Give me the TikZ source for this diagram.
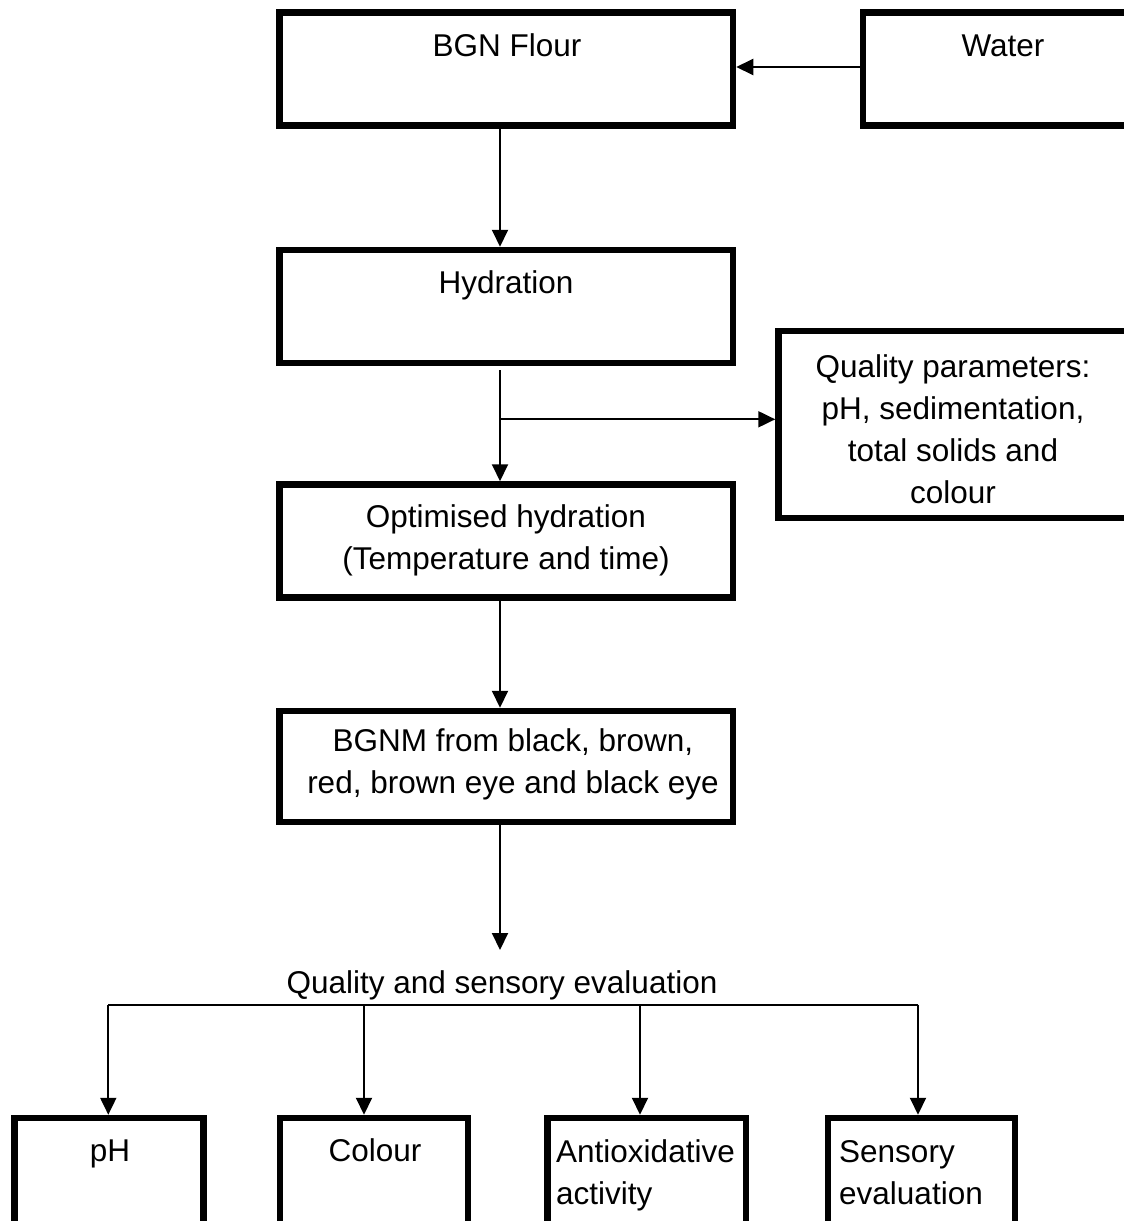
\documentclass[tikz,border=0pt]{standalone}
\usepackage{fontspec}
\setmainfont{Liberation Sans}
\usetikzlibrary{arrows.meta}
\begin{document}
\begin{tikzpicture}[x=1pt,y=-1pt,
  box/.style={draw, line width=6.5pt, inner sep=0pt, rectangle},
  txt/.style={inner sep=0pt, align=center, anchor=base, font=\fontsize{31.5}{42}\selectfont},
  ltxt/.style={inner sep=0pt, align=left, anchor=base west, font=\fontsize{31.5}{42}\selectfont},
  conn/.style={line width=2pt},
  arr/.style={conn, -{Triangle[length=17pt,width=16pt]}}]
\useasboundingbox (0,0) rectangle (1124,1221);
\clip (0,0) rectangle (1124,1221);
% boxes
\node[box, minimum width=453.5pt, minimum height=113pt] (flour) at (506.25,69) {};
\node[box, minimum width=280pt, minimum height=113pt] (water) at (1003,69) {};
\node[box, minimum width=453.5pt, minimum height=113pt] (hyd) at (506.25,306.5) {};
\node[box, minimum width=349pt, minimum height=187pt] (qp) at (953,424.5) {};
\node[box, minimum width=453.5pt, minimum height=113pt] (opt) at (506.25,541) {};
\node[box, minimum width=453.5pt, minimum height=111pt] (bgnm) at (506.25,766.5) {};
\node[box, minimum width=188.8pt, minimum height=130pt] (ph) at (109.1,1183) {};
\node[box, minimum width=188pt, minimum height=130pt] (col) at (374,1183) {};
\node[box, minimum width=198.3pt, minimum height=130pt] (aox) at (646.85,1183) {};
\node[box, minimum width=187pt, minimum height=130pt] (sen) at (921.5,1183) {};
% texts (multi-line nodes are placed by the baseline of their last line)
\node[txt] (tflour) at (507,56) {BGN Flour};
\node[txt] (twater) at (1003,56) {Water};
\node[txt] (thyd) at (506,293) {Hydration};
\node[txt] (tqp) at (953,503) {Quality parameters:\\pH, sedimentation,\\total solids and\\colour};
\node[txt] (topt) at (506,569) {Optimised hydration\\(Temperature and time)};
\node[txt] (tbgnm) at (513,793) {BGNM from black, brown,\\red, brown eye and black eye};
\node[txt] (qse) at (502,993) {Quality and sensory evaluation};
\node[txt] (tph) at (110,1161) {pH};
\node[txt] (tcol) at (375,1161) {Colour};
\node[ltxt] (taox) at (556,1204) {Antioxidative\\activity};
\node[ltxt] (tsen) at (839,1204) {Sensory\\evaluation};
% coordinates
\coordinate (ax) at (500,0);
\coordinate (hstart) at (500,370);
\coordinate (br) at (500,419.3);
\coordinate (qtop) at (500,950);
\coordinate (h1) at (108.3,1004.5);
\coordinate (h2) at (364,1004.5);
\coordinate (h3) at (640,1004.5);
\coordinate (h4) at (918,1004.5);
% connectors
\draw[arr] (water.west |- 0,67) -- (flour.east |- 0,67);
\draw[arr] (flour.south -| ax) -- (hyd.north -| ax);
\draw[arr] (hstart) -- (opt.north -| ax);
\draw[arr] (br) -- (br -| qp.west);
\draw[arr] (opt.south -| ax) -- (bgnm.north -| ax);
\draw[arr] (bgnm.south -| ax) -- (qtop);
\draw[conn] (h1) -- (h4);
\draw[arr] (h1) -- (ph.north -| h1);
\draw[arr] (h2) -- (col.north -| h2);
\draw[arr] (h3) -- (aox.north -| h3);
\draw[arr] (h4) -- (sen.north -| h4);
\end{tikzpicture}
\end{document}
